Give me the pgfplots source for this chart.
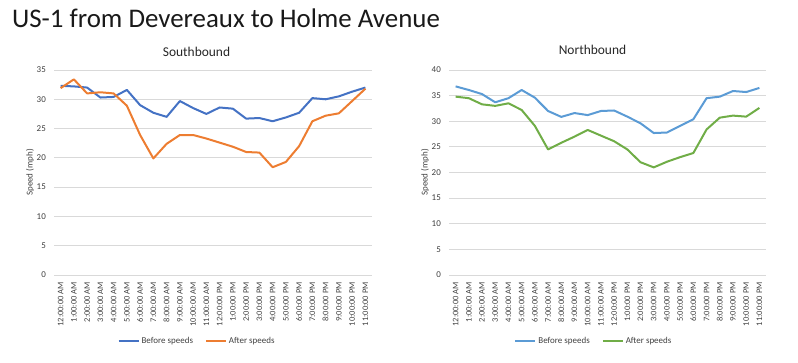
\documentclass[border=0pt]{standalone}
\usepackage{fontspec}
\setmainfont{Carlito}
\usepackage{pgfplots}
\pgfplotsset{compat=1.18}
\definecolor{sbBefore}{HTML}{4472C4}
\definecolor{sbAfter}{HTML}{ED7D31}
\definecolor{nbBefore}{HTML}{5B9BD5}
\definecolor{nbAfter}{HTML}{70AD47}
\definecolor{gridc}{HTML}{D9D9D9}
\definecolor{tickc}{HTML}{404040}
\pgfplotsset{
  excel/.style={
    scale only axis,
    width=318bp, height=205bp,
    xmin=-0.5, xmax=23.5, ymin=0,
    axis line style={draw=none},
    tick style={draw=none},
    ymajorgrids,
    grid style={color=gridc, line width=0.9bp},
    xtick={0,...,23},
    xticklabels={12:00:00 AM,1:00:00 AM,2:00:00 AM,3:00:00 AM,4:00:00 AM,5:00:00 AM,6:00:00 AM,7:00:00 AM,8:00:00 AM,9:00:00 AM,10:00:00 AM,11:00:00 AM,12:00:00 PM,1:00:00 PM,2:00:00 PM,3:00:00 PM,4:00:00 PM,5:00:00 PM,6:00:00 PM,7:00:00 PM,8:00:00 PM,9:00:00 PM,10:00:00 PM,11:00:00 PM},
    x tick label style={rotate=90, anchor=east, inner sep=0pt, font=\fontsize{8.5}{10}\selectfont, text=tickc},
    xticklabel shift=7bp,
    y tick label style={inner sep=0pt, font=\fontsize{9}{10}\selectfont, text=tickc},
    yticklabel shift=8bp,
    /pgf/number format/assume math mode=true,
    ylabel={Speed (mph)},
    every axis y label/.style={at={(rel axis cs:0,0.5)}, xshift=-24bp, rotate=90, anchor=center, font=\fontsize{9}{10}\selectfont, text=tickc},
    legend columns=2,
    legend style={draw=none, fill=none, font=\fontsize{9}{10}\selectfont, text=tickc, anchor=center, inner sep=0pt},
    legend image code/.code={\draw[#1, line width=2bp] (0bp,0bp) -- (20bp,0bp);},
    /tikz/every even column/.append style={column sep=10bp},
    every axis plot/.append style={line width=2bp, line join=round, mark=none},
  }
}
\begin{document}
\begin{tikzpicture}[x=1bp,y=1bp]
\path[use as bounding box] (0,0) rectangle (798,362);
\node[anchor=base west, inner sep=0pt, font=\fontsize{27}{32}\selectfont, text=black!90] at (12,335) {US-1 from Devereaux to Holme Avenue};
\node[inner sep=0pt, font=\fontsize{13.5}{16}\selectfont, text=black!85] at (196.5,310) {Southbound};
\node[inner sep=0pt, font=\fontsize{13.5}{16}\selectfont, text=black!85] at (592.5,312) {Northbound};

\begin{axis}[excel, at={(54bp,87bp)}, anchor=south west,
  ymax=35, ytick={0,5,...,35},
  legend style={at={(0.45,-0.322)}}]
\addplot[color=sbBefore] coordinates {
(0,32.3) (1,32.2) (2,32.0) (3,30.3) (4,30.4) (5,31.6) (6,29.0) (7,27.7) (8,27.0) (9,29.7) (10,28.5) (11,27.5) (12,28.6) (13,28.4) (14,26.7) (15,26.8) (16,26.25) (17,26.9) (18,27.7) (19,30.2) (20,30.0) (21,30.5) (22,31.3) (23,32.0)};
\addlegendentry{Before speeds}
\addplot[color=sbAfter] coordinates {
(0,31.9) (1,33.4) (2,31.0) (3,31.2) (4,31.0) (5,28.9) (6,23.9) (7,19.9) (8,22.4) (9,23.9) (10,23.9) (11,23.3) (12,22.6) (13,21.9) (14,21.0) (15,20.9) (16,18.4) (17,19.3) (18,22.0) (19,26.25) (20,27.2) (21,27.6) (22,29.7) (23,31.8)};
\addlegendentry{After speeds}
\end{axis}

\begin{axis}[excel, at={(449bp,87bp)}, anchor=south west, width=317bp,
  ymax=40, ytick={0,5,...,40},
  legend style={at={(0.457,-0.322)}}]
\addplot[color=nbBefore] coordinates {
(0,36.8) (1,36.1) (2,35.3) (3,33.7) (4,34.5) (5,36.1) (6,34.6) (7,32.0) (8,30.85) (9,31.6) (10,31.2) (11,32.0) (12,32.1) (13,30.9) (14,29.6) (15,27.7) (16,27.8) (17,29.1) (18,30.4) (19,34.5) (20,34.8) (21,35.9) (22,35.7) (23,36.5)};
\addlegendentry{Before speeds}
\addplot[color=nbAfter] coordinates {
(0,34.8) (1,34.5) (2,33.3) (3,33.0) (4,33.5) (5,32.2) (6,29.1) (7,24.5) (8,25.8) (9,27.0) (10,28.3) (11,27.2) (12,26.1) (13,24.5) (14,22.0) (15,21.0) (16,22.1) (17,23.0) (18,23.8) (19,28.4) (20,30.7) (21,31.1) (22,30.9) (23,32.6)};
\addlegendentry{After speeds}
\end{axis}
\end{tikzpicture}
\end{document}
